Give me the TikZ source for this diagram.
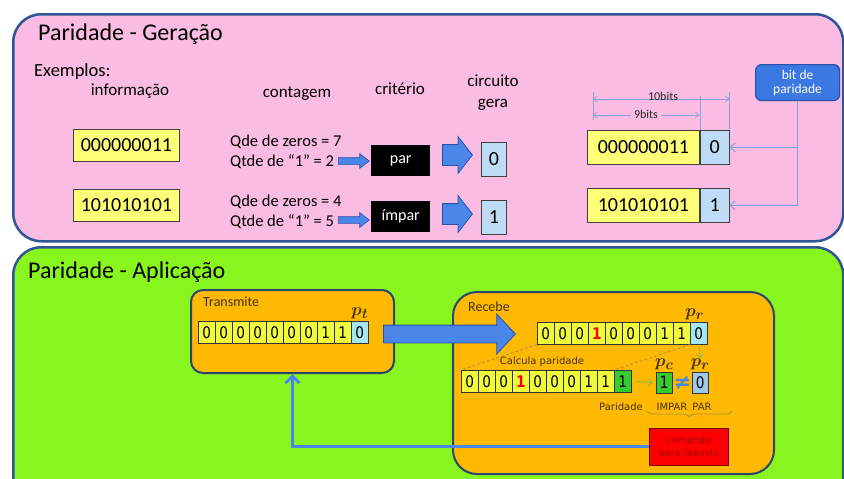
\documentclass[tikz,border=0pt]{standalone}
\usepackage{fontspec}
\setmainfont{Carlito}
\newfontfamily\verd{DejaVu Sans}
\newfontfamily\verdn[FakeStretch=0.85]{DejaVu Sans}
\usetikzlibrary{arrows.meta,shapes.arrows,decorations.pathreplacing,calc}

\definecolor{pinkbg}{RGB}{250,188,227}
\definecolor{greenbg}{RGB}{136,245,30}
\definecolor{panelbd}{RGB}{47,85,151}
\definecolor{orangebx}{RGB}{255,185,0}
\definecolor{boxbd}{RGB}{40,70,110}
\definecolor{yelbox}{RGB}{255,255,120}
\definecolor{lbluebox}{RGB}{190,220,245}
\definecolor{cellyel}{RGB}{242,250,60}
\definecolor{cellcyan}{RGB}{165,230,240}
\definecolor{cellgreen}{RGB}{55,205,45}
\definecolor{prblue}{RGB}{160,200,235}
\definecolor{arrowblue}{RGB}{74,134,232}
\definecolor{arrowbd}{RGB}{40,80,170}
\definecolor{lineblue}{RGB}{130,160,220}
\definecolor{dimline}{RGB}{140,160,215}
\definecolor{olive}{RGB}{165,150,70}
\definecolor{lgreen}{RGB}{140,185,80}
\definecolor{cmdred}{RGB}{255,0,0}
\definecolor{cmdtext}{RGB}{150,0,0}
\definecolor{txtbrown}{RGB}{70,50,10}
\definecolor{bitbox}{RGB}{60,120,225}

\tikzset{
  panel/.style={draw=panelbd, line width=2.5pt, rounded corners=28pt, anchor=north west, inner sep=0pt},
  fsz/.style={font=\fontsize{#1}{#1}\selectfont},
  infobox/.style={draw=black!75, fill=yelbox, line width=0.8pt, anchor=north west, inner sep=0pt,
    minimum height=32pt, fsz=20},
  genbox/.style={draw=black!75, fill=lbluebox, line width=0.8pt, anchor=north west, inner sep=0pt,
    minimum width=25pt, minimum height=34pt, fsz=20},
  critbox/.style={fill=black, text=white, anchor=north west, inner sep=0pt,
    minimum width=59pt, minimum height=31pt, fsz=16},
  bigarrow/.style={single arrow, draw=arrowbd, fill=arrowblue, line width=0.8pt, inner xsep=0pt,
    inner ysep=10pt, minimum height=30pt, single arrow head extend=8pt, single arrow tip angle=104, anchor=tail},
  smallarrow/.style={single arrow, draw=arrowbd, fill=arrowblue, line width=0.6pt, inner xsep=0pt,
    inner ysep=3pt, minimum height=31pt, single arrow head extend=4pt, single arrow tip angle=75, anchor=tail},
  bitline/.style={draw=lineblue, line width=0.9pt, -{Straight Barb[length=5pt,width=9pt]}},
  dimln/.style={draw=dimline, line width=0.6pt},
  dimarr/.style={dimln, {Straight Barb[length=4pt,width=6pt]}-{Straight Barb[length=4pt,width=6pt]}},
  subbox/.style={draw=boxbd, fill=orangebx, line width=2pt, anchor=north west, inner sep=0pt},
  cell/.style={draw=black!80, line width=0.6pt, anchor=north west, inner sep=0pt,
    minimum width=17pt, minimum height=22pt, font=\verdn\fontsize{16}{16}\selectfont},
  midsep/.style={draw=black!85, line width=1.3pt},
  plabel/.style={inner sep=0.5pt, text=txtbrown, font=\boldmath\fontsize{19}{19}\selectfont},
  smalltxt/.style={text=txtbrown, inner sep=0pt, font=\verd\fontsize{10}{10}\selectfont},
  dashln/.style={draw=olive, line width=0.9pt, dash pattern=on 3pt off 2pt},
  garrow/.style={draw=lgreen, line width=0.9pt, -{Straight Barb[length=4pt,width=7pt]}},
  retarrow/.style={draw=arrowblue, line width=3pt, -{Straight Barb[length=7pt,width=14pt]}}
}

\begin{document}
\begin{tikzpicture}[x=1pt,y=-1pt]
\useasboundingbox (0,0) rectangle (844,479);
\clip (0,0) rectangle (844,479);

% ---------- generation panel ----------
\node[panel, fill=pinkbg, minimum width=830pt, minimum height=227pt] (gen) at (12,13) {};
\node[anchor=base west, inner sep=0pt, fsz=24] (gtitle) at (38,40) {Paridade - Geração};
\node[anchor=base west, inner sep=0pt, fsz=18.5] (exem) at (34,76) {Exemplos:};
\node[anchor=base, inner sep=0pt, fsz=17] (hinfo) at (130,95) {informação};
\node[anchor=base, inner sep=0pt, fsz=17] (hcont) at (297,97) {contagem};
\node[anchor=base, inner sep=0pt, fsz=17] (hcrit) at (400,94) {critério};
\node[anchor=base, inner sep=0pt, fsz=17] (hcirc) at (493,86) {circuito};
\node[anchor=base, inner sep=0pt, fsz=17] (hgera) at (493,107) {gera};

% first example
\node[infobox, minimum width=106pt] (i1) at (73,129) {000000011};
\node[anchor=base west, inner sep=0pt, fsz=16.5] (z1) at (230,146) {Qde de zeros = 7};
\node[anchor=base west, inner sep=0pt, fsz=16.5] (u1) at (230,166) {Qtde de “1” = 2};
\node[smallarrow] (sa1) at (338,161) {};
\node[critbox] (c1) at (371,145) {par};
\node[bigarrow] (ba1) at (442,155) {};
\node[genbox] (g1) at (481,142) {0};

% second example
\node[infobox, minimum width=106pt] (i2) at (73,189) {101010101};
\node[anchor=base west, inner sep=0pt, fsz=16.5] (z2) at (230,206) {Qde de zeros = 4};
\node[anchor=base west, inner sep=0pt, fsz=16.5] (u2) at (230,226) {Qtde de “1” = 5};
\node[smallarrow] (sa2) at (338,220) {};
\node[critbox] (c2) at (371,201) {ímpar};
\node[bigarrow] (ba2) at (442,214) {};
\node[genbox] (g2) at (481,200) {1};

% words with the parity bit appended
\node[infobox, minimum width=112pt, minimum height=34pt] (w1) at (587,130) {000000011};
\node[genbox, minimum width=29pt] (b1) at (w1.north east) {0};
\node[infobox, minimum width=112pt, minimum height=34pt] (w2) at (587,188) {101010101};
\node[genbox, minimum width=29pt] (b2) at (w2.north east) {1};

% dimension marks
\draw[dimln] (593,92) -- (593,120);
\draw[dimln] (w1.north east) ++(0,-34) -- (w1.north east);
\draw[dimln] (b1.north east) ++(0,-38) -- (b1.north east);
\draw[dimarr] (593,99) -- (b1.north east |- 0,99);
\draw[dimarr] (593,115) -- (w1.north east |- 0,115);
\node[anchor=base, inner sep=0pt, fsz=12, text=black!85] (l10) at (663,100) {10bits};
\node[fill=pinkbg, inner xsep=3pt, inner ysep=0pt, fsz=12, text=black!85] (l9) at (646,114) {9bits};

% parity bit callout
\node[draw=arrowbd, fill=bitbox, line width=1.2pt, rounded corners=6pt, text=white, align=center,
      anchor=north west, minimum width=84pt, minimum height=36pt, inner sep=0pt,
      font=\fontsize{13.5}{14}\selectfont] (bitp) at (755,64) {bit de\\paridade};
\draw[bitline] (bitp.south) |- (b2.east);
\draw[bitline] (bitp.south |- b1.east) -- (b1.east);

% ---------- application panel ----------
\node[panel, fill=greenbg, minimum width=830pt, minimum height=262pt] (app) at (12,246) {};
\node[anchor=base west, inner sep=0pt, fsz=24] (atitle) at (28,278) {Paridade - Aplicação};

% transmitter
\node[subbox, rounded corners=12pt, minimum width=203pt, minimum height=83pt] (tx) at (190,289) {};
\node[anchor=base west, inner sep=0pt, fsz=14, text=txtbrown] (txl) at (203,306) {Transmite};
\foreach \d/\c [count=\i] in {0/cellyel,0/cellyel,0/cellyel,0/cellyel,0/cellyel,0/cellyel,0/cellyel,1/cellyel,1/cellyel,0/cellcyan}
  \node[cell, fill=\c] (t\i) at ({198+17*(\i-1)},321) {\d};
\draw[midsep] (t5.north east) -- (t5.south east);
\node[plabel, anchor=south] (ptl) at ($(t10.north)+(0,-1)$) {$p_t$};

% receiver
\node[subbox, rounded corners=24pt, minimum width=321pt, minimum height=182pt] (rx) at (452,291) {};
\node[anchor=base west, inner sep=0pt, fsz=14, text=txtbrown] (rxl) at (468,311) {Recebe};

% transmission arrow
\node[single arrow, draw=arrowbd, fill=arrowblue, line width=0.8pt, inner xsep=0pt, inner ysep=8.5pt,
      minimum height=132pt, single arrow head extend=11pt, single arrow tip angle=94, anchor=tail] (tr) at (383,334) {};

\foreach \d/\c/\tc [count=\i] in {0/cellyel/black,0/cellyel/black,0/cellyel/black,1/cellyel/red,0/cellyel/black,0/cellyel/black,0/cellyel/black,1/cellyel/black,1/cellyel/black,0/cellcyan/black}
  \node[cell, fill=\c, text=\tc] (r\i) at ({537+17*(\i-1)},322) {\ifnum\i=4 \bfseries\fi\d};
\draw[midsep] (r5.north east) -- (r5.south east);
\node[plabel, anchor=south] (prtop) at ($(r10.north)+(-4,-1)$) {$p_r$};

% recomputed parity
\node[smalltxt] (calc) at (542,362) {Calcula paridade};
\foreach \d/\c/\tc [count=\i] in {0/cellyel/black,0/cellyel/black,0/cellyel/black,1/cellyel/red,0/cellyel/black,0/cellyel/black,0/cellyel/black,1/cellyel/black,1/cellyel/black,1/cellgreen/black}
  \node[cell, fill=\c, text=\tc] (c\i) at ({461+17*(\i-1)},370) {\ifnum\i=4 \bfseries\fi\d};
\draw[midsep] (c5.north east) -- (c5.south east);
\draw[dashln] (r1.south west) -- (c1.north west);
\draw[dashln] (r10.south west) -- (c10.north west);

% comparison
\node[cell, fill=cellgreen, minimum width=16pt, minimum height=21pt, font=\verdn\fontsize{17}{17}\selectfont] (pc) at (656,372) {1};
\node[cell, fill=prblue, minimum width=16pt, minimum height=21pt] (prb) at (692,372) {0};
\node[plabel, anchor=south] (pcl) at ($(pc.north)+(0,-1)$) {$p_c$};
\node[plabel, anchor=south] (prl) at ($(prb.north)+(0,-1)$) {$p_r$};
\node[inner sep=0pt, text=arrowblue, font=\verd\bfseries\fontsize{21}{21}\selectfont] (neq) at ($(pc.east)!0.5!(prb.west)$) {≠};
\draw[garrow] (c10.east) ++(4,0) -- ($(pc.west)+(-3,0)$);
\draw[garrow] (r10.south) -- (prl.north);

\node[smalltxt, anchor=base] (parl) at (621,410) {Paridade};
\node[smalltxt, anchor=base] (impl) at (672,410) {IMPAR};
\node[smalltxt, anchor=base] (parr) at (702,410) {PAR};
\draw[draw=olive, line width=0.8pt, decorate, decoration={brace, mirror, amplitude=6pt}] (647,411) -- (732,411);

% resend command
\node[draw=cmdtext!80!black, fill=cmdred, line width=0.8pt, anchor=north west, inner sep=0pt,
      minimum width=79pt, minimum height=37pt, align=center, text=cmdtext,
      font=\verd\fontsize{9.5}{13}\selectfont] (cmd) at (649,428) {comando\\para reenvio};
\draw[retarrow] (cmd.west) -| (tx.south);

\end{tikzpicture}
\end{document}
